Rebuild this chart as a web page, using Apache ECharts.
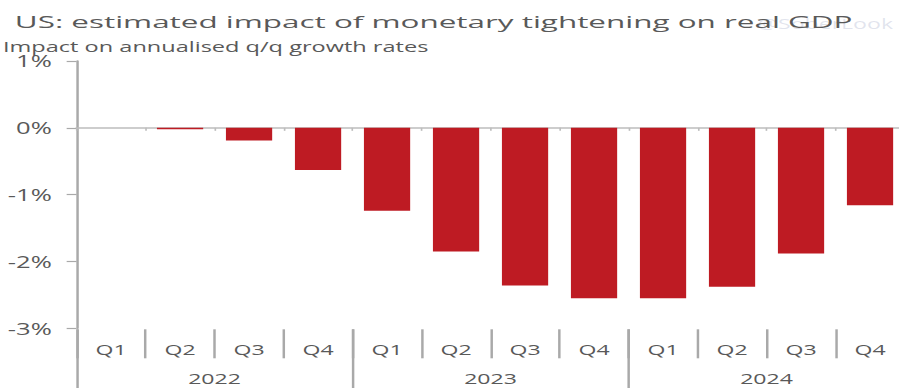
<!DOCTYPE html>
<html>
<head>
<meta charset="utf-8">
<script src="https://cdn.jsdelivr.net/npm/echarts@6/dist/echarts.min.js"></script>
<style>
  html, body { margin: 0; padding: 0; background: #fff; overflow: hidden; }
  #wrap { width: 899px; height: 388px; overflow: hidden; position: relative; }
  /* the chart is laid out narrow and widened horizontally */
  #chart { width: 544.85px; height: 388px; transform: scaleX(1.65); transform-origin: 0 0; }
</style>
</head>
<body>
<div id="wrap"><div id="chart"></div></div>
<script>
const quarters = ['Q1', 'Q2', 'Q3', 'Q4', 'Q1', 'Q2', 'Q3', 'Q4', 'Q1', 'Q2', 'Q3', 'Q4'];
const years = ['2022', '2023', '2024'];
// estimated impact on annualised q/q real GDP growth, percentage points
const impact = [0, -0.02, -0.19, -0.63, -1.24, -1.85, -2.36, -2.55, -2.55, -2.38, -1.88, -1.16];
const yMin = -3, yMax = 1, yStep = 1;

const titleText = 'US: estimated impact of monetary tightening on real GDP';
const subtitleText = 'Impact on annualised q/q growth rates';
const sourceTag = '@SoberLook';

const grey = '#595959';
const axisGrey = '#a9a9a9';
const barRed = '#be1b23';
const font = '"Open Sans", "Noto Sans", sans-serif';

const chart = echarts.init(document.getElementById('chart'), null, { renderer: 'svg' });

const grid = { left: 46.4, top: 61, width: 501.8, height: 267.3, outerBoundsMode: 'none' };

chart.setOption({
  animation: false,
  backgroundColor: '#fff',
  graphic: [
    { type: 'text', x: 459, y: 24, z: 0,
      style: { text: sourceTag, fontFamily: font, fontSize: 14, verticalAlign: 'middle',
               fill: 'rgba(170,178,205,0.35)' } },
    { type: 'text', x: 9, y: 21, z: 10, scaleX: 1.12,
      style: { text: titleText, fontFamily: font, fontSize: 17, verticalAlign: 'middle', fill: grey } },
    { type: 'text', x: 1.8, y: 46.5, z: 10, scaleX: 1.02,
      style: { text: subtitleText, fontFamily: font, fontSize: 14, verticalAlign: 'middle', fill: grey } }
  ],
  grid: grid,
  yAxis: {
    type: 'value', min: yMin, max: yMax, interval: yStep,
    axisLine: { show: true, lineStyle: { color: axisGrey, width: 1.5 } },
    axisTick: { show: true, length: 6, lineStyle: { color: axisGrey, width: 1.2 } },
    splitLine: { show: false },
    axisLabel: { formatter: v => v + '%', margin: 15, fontFamily: font, fontSize: 15.5, color: grey }
  },
  xAxis: [
    { // zero line with short ticks between quarters
      type: 'category', data: quarters, position: 'bottom',
      axisLine: { show: true, onZero: true, lineStyle: { color: '#bdbdbd', width: 1.5 } },
      axisTick: { show: true, length: 3, lineStyle: { color: '#bdbdbd', width: 1 } },
      axisLabel: { show: false }
    },
    { // quarter labels with separators
      type: 'category', data: quarters, position: 'bottom', offset: 1,
      axisLine: { show: false, onZero: false },
      axisTick: { show: true, length: 29, lineStyle: { color: axisGrey, width: 1.5 } },
      axisLabel: { margin: 14, fontFamily: font, fontSize: 14, color: grey }
    },
    { // year labels with long separators
      type: 'category', data: years, position: 'bottom', offset: 1,
      axisLine: { show: false, onZero: false },
      axisTick: { show: true, length: 60, lineStyle: { color: axisGrey, width: 1.5 } },
      axisLabel: { margin: 43, fontFamily: font, fontSize: 14, color: grey }
    }
  ],
  series: [{
    type: 'bar', xAxisIndex: 0, data: impact,
    barCategoryGap: '33%',
    itemStyle: { color: barRed }
  }]
});
</script>
</body>
</html>
